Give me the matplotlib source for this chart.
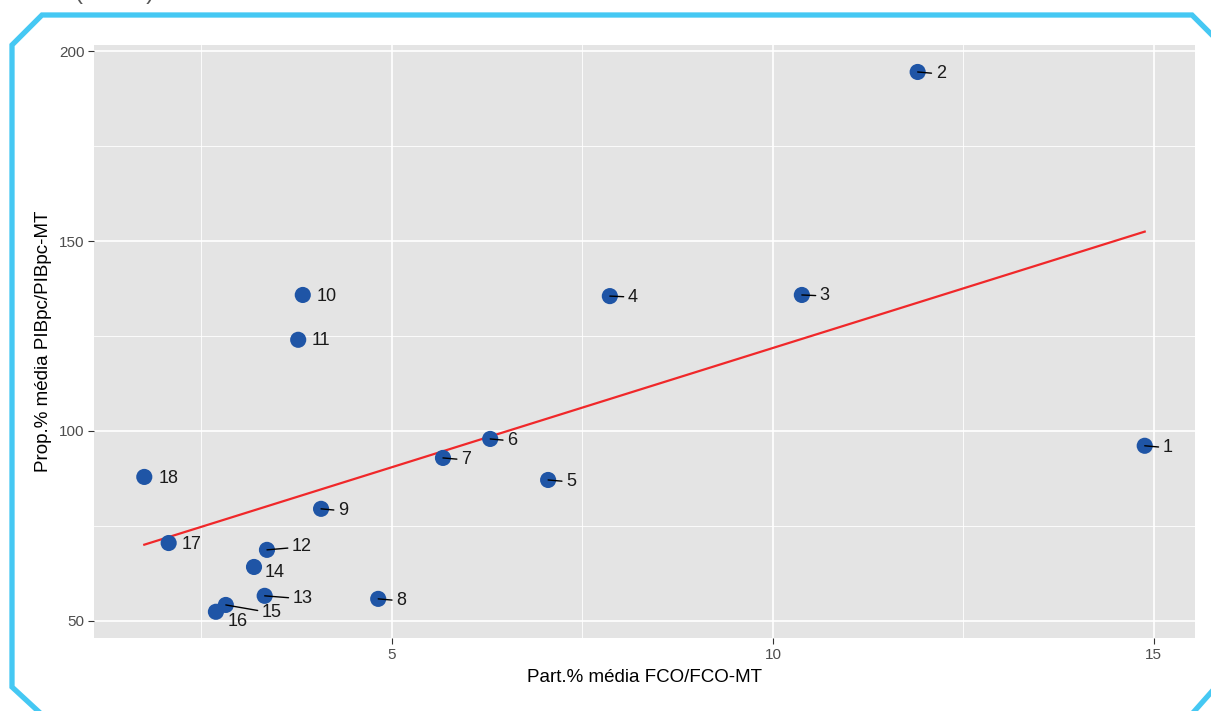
import numpy as np
import matplotlib
matplotlib.use("Agg")
import matplotlib.pyplot as plt
from matplotlib.lines import Line2D

plt.rcParams['font.family'] = ['Liberation Sans', 'DejaVu Sans']

# Share of FCO (%) and GDP per capita ratio (%) by region
ids = [str(i) for i in range(1, 19)]
fco_share = [14.88, 11.90, 10.38, 7.86, 7.05, 6.29, 5.67, 4.82, 4.07,
             3.83, 3.77, 3.36, 3.33, 3.19, 2.82, 2.69, 2.07, 1.75]
gdp_ratio = [96.1, 194.5, 135.8, 135.5, 87.1, 97.9, 92.9, 55.8, 79.5,
             135.8, 124.0, 68.7, 56.6, 64.2, 54.2, 52.4, 70.5, 87.9]

x_ticks = [5, 10, 15]
y_ticks = [50, 100, 150, 200]
x_label = "Part.% média FCO/FCO-MT"
y_label = "Prop.% média PIBpc/PIBpc-MT"

# label placement (offset in pixels, right / down) and whether a leader segment is drawn
label_offsets = [(23, 2), (23, 2), (23, 1), (23, 1), (23, 2), (22, 2), (23, 2), (23, 2), (22, 2),
                 (24, 2), (23, 1), (35, -3), (38, 3), (21, 6), (46, 8), (22, 10), (23, 1), (24, 2)]
with_segment = [True, True, True, True, True, True, True, True, True,
                False, False, True, True, False, True, False, False, False]

W, H = 1211, 711
fig = plt.figure(figsize=(W / 100, H / 100), dpi=100)
fig.patch.set_facecolor("white")

ax = fig.add_axes([94 / W, 1 - 638 / H, (1195 - 94) / W, (638 - 45) / H])
ax.set_facecolor("#E4E4E4")
ax.set_xlim(1.09, 15.54)
ax.set_ylim(45.5, 201.6)

for v in [2.5, 7.5, 12.5]:
    ax.axvline(v, color="white", lw=0.6, zorder=0)
for v in [75, 125, 175]:
    ax.axhline(v, color="white", lw=0.6, zorder=0)
for v in x_ticks:
    ax.axvline(v, color="white", lw=1.2, zorder=0)
for v in y_ticks:
    ax.axhline(v, color="white", lw=1.2, zorder=0)

for s in ax.spines.values():
    s.set_visible(False)
ax.set_xticks(x_ticks)
ax.set_yticks(y_ticks)
ax.tick_params(axis="both", colors="#333333", labelcolor="#4D4D4D", labelsize=11,
               length=4, width=0.8, pad=3)
ax.set_xlabel(x_label, fontsize=13.5, color="black", labelpad=5)
ax.set_ylabel(y_label, fontsize=13.5, color="black", labelpad=5)

x = np.array(fco_share)
y = np.array(gdp_ratio)

# linear fit over the data range
slope, intercept = np.polyfit(x, y, 1)
xf = np.array([x.min(), x.max()])
ax.plot(xf, intercept + slope * xf, color="#F0282A", lw=1.6, zorder=2)

ax.scatter(x, y, s=135, color="#1F55A6", edgecolors="none", zorder=3)

for i, lab in enumerate(ids):
    dx, dy = label_offsets[i]
    kw = {}
    if with_segment[i]:
        kw["arrowprops"] = dict(arrowstyle="-", color="black", lw=1.0,
                                shrinkA=1, shrinkB=0)
    ax.annotate(lab, (x[i], y[i]), xytext=(dx * 0.72, -dy * 0.72),
                textcoords="offset points", ha="center", va="center",
                fontsize=13, color="#1A1A1A", zorder=4, **kw)

# cyan frame with cut corners around the chart
frame_px = [(38, 711), (12, 687), (12, 45), (42, 15), (1192, 15), (1222, 45),
            (1222, 680), (1191, 715)]
fx = [p[0] / W for p in frame_px]
fy = [1 - p[1] / H for p in frame_px]
fig.add_artist(Line2D(fx, fy, transform=fig.transFigure, color="#45C8F3", lw=3.8,
                      solid_joinstyle="miter"))

fig.text(75 / W, 1 + 7 / H, "(Em %)", fontsize=17, color="#555555", va="center", ha="left")

fig.savefig("out.png", dpi=100, facecolor="white")
